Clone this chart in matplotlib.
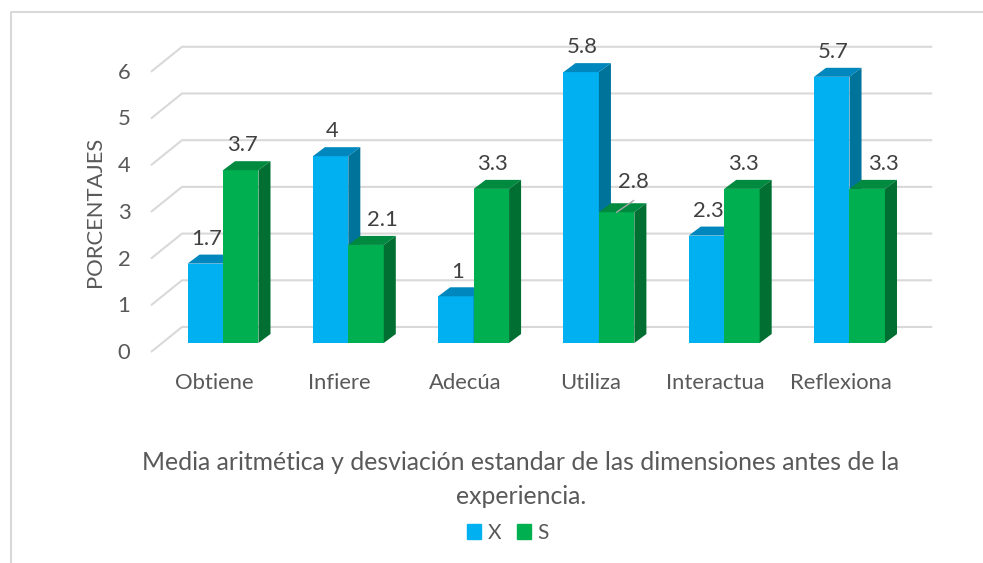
import matplotlib
matplotlib.use("Agg")
from matplotlib import pyplot as plt
from matplotlib.patches import Polygon, Patch
from matplotlib.lines import Line2D

categories = ["Obtiene", "Infiere", "Adecúa", "Utiliza", "Interactua", "Reflexiona"]
x_values = [1.7, 4, 1, 5.8, 2.3, 5.7]
s_values = [3.7, 2.1, 3.3, 2.8, 3.3, 3.3]
series_names = ["X", "S"]
y_ticks = [0, 1, 2, 3, 4, 5, 6]

# colours: front, top, side
BLUE = ("#00B0F0", "#0088BE", "#00739B")
GREEN = ("#00B050", "#008A3F", "#006F31")
TEXT = "#595959"
GRID = "#D9D9D9"
FONT = "Lato"
FS = 15.8

# pseudo 3d geometry, in data units
BAR_W = 0.283
DEPTH_X = 0.096
DEPTH_Y = 0.193
WALL_X0, WALL_X1 = -0.327, 5.66
WALL_DY = 0.343
FRONT_X = -0.575
FRONT_DY = -0.193

W, H = 983, 563
fig = plt.figure(figsize=(W / 100, H / 100), dpi=100)
ax = fig.add_axes([0, 0, 1, 1])
ax.set_xlim(-223 / 125.3, (W - 223) / 125.3)
ax.set_ylim((343 - H) / 46.7, 343 / 46.7)
ax.axis("off")

# gridlines on the back wall + diagonal on the side wall
for v in y_ticks:
    ax.plot([FRONT_X, WALL_X0, WALL_X1], [v + FRONT_DY, v + WALL_DY, v + WALL_DY],
            color=GRID, lw=1.5, solid_capstyle="butt", zorder=1)
    ax.text(-0.79, v + FRONT_DY - 0.02, str(v), ha="center", va="center",
            fontsize=FS, color=TEXT, family=FONT)

ax.text(-1.02, 2.8, "PORCENTAJES", rotation=90, ha="center", va="center",
        fontsize=FS, color=TEXT, family=FONT)


def bar3d(x0, v, cols, z):
    x1 = x0 + BAR_W
    ax.bar(x0, v, width=BAR_W, align="edge", color=cols[0], zorder=z)
    top = [(x0, v), (x1, v), (x1 + DEPTH_X, v + DEPTH_Y), (x0 + DEPTH_X, v + DEPTH_Y)]
    side = [(x1, 0), (x1, v), (x1 + DEPTH_X, v + DEPTH_Y), (x1 + DEPTH_X, DEPTH_Y)]
    ax.add_patch(Polygon(top, closed=True, color=cols[1], lw=0, zorder=z))
    ax.add_patch(Polygon(side, closed=True, color=cols[2], lw=0, zorder=z))


lab = dict(ha="center", va="center", fontsize=FS, color="#404040", family=FONT, zorder=20)

for i, (xv, sv) in enumerate(zip(x_values, s_values)):
    bar3d(i - BAR_W, xv, BLUE, 2 + i * 2)
    bar3d(i, sv, GREEN, 3 + i * 2)

    # data labels
    ax.text(i - BAR_W / 2 + 0.012, xv + 0.53, f"{xv:g}", **lab)
    sx = i + BAR_W / 2 + 0.012
    if xv > sv:
        # label pushed right, away from the taller blue bar
        sx += 0.12
    if categories[i] == "Utiliza":
        # moved label with a leader line
        ax.plot([i + BAR_W / 2, i + BAR_W / 2 + 0.135], [sv, sv + 0.25],
                color="#A6A6A6", lw=1, zorder=20)
        ax.text(i + BAR_W / 2 + 0.135, sv + 0.64, f"{sv:g}", **lab)
    else:
        ax.text(sx, sv + 0.53, f"{sv:g}", **lab)

    ax.text(i - 0.068, -0.857, categories[i], ha="center", va="center",
            fontsize=FS, color=TEXT, family=FONT)

# title below the plot
fig.text(521 / W, 1 - 463 / H, "Media aritmética y desviación estandar de las dimensiones antes de la",
         ha="center", va="center", fontsize=17.8, color=TEXT, family=FONT)
fig.text(521 / W, 1 - 496 / H, "experiencia.",
         ha="center", va="center", fontsize=17.8, color=TEXT, family=FONT)

handles = [Patch(color=BLUE[0]), Patch(color=GREEN[0])]
leg = fig.legend(handles, series_names, loc="center", bbox_to_anchor=(508 / W, 1 - 533 / H),
                 ncol=2, frameon=False, handlelength=0.7, handleheight=0.7,
                 handletextpad=0.3, columnspacing=0.75, prop={"family": FONT, "size": 15})
for t in leg.get_texts():
    t.set_color(TEXT)

# chart area border (top and left visible)
fig.add_artist(Line2D([11 / W, 11 / W, 1], [0, 1 - 12 / H, 1 - 12 / H],
                      transform=fig.transFigure, color=GRID, lw=1.5))

fig.savefig("out.png", dpi=100)
